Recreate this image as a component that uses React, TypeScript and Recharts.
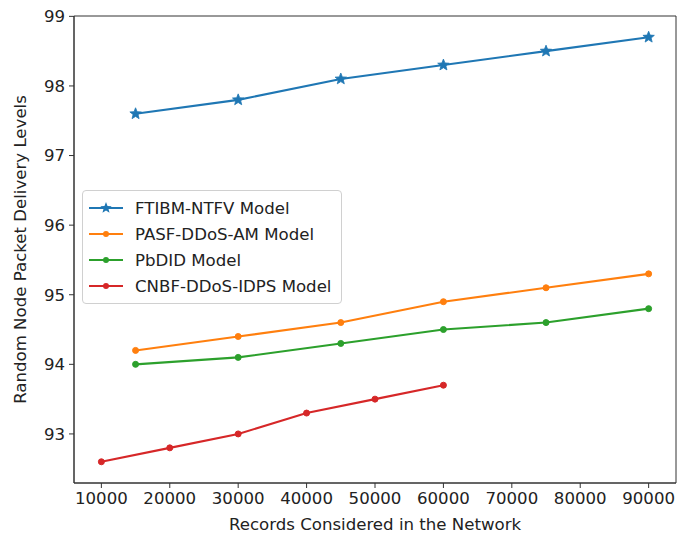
import React from "react";
import { LineChart, Line, XAxis, YAxis, ReferenceArea } from "recharts";

const xTicks = [10000, 20000, 30000, 40000, 50000, 60000, 70000, 80000, 90000];
const yTicks = [93, 94, 95, 96, 97, 98, 99];

const xMain = [15000, 30000, 45000, 60000, 75000, 90000];
const ftibm = [97.6, 97.8, 98.1, 98.3, 98.5, 98.7];
const pasf = [94.2, 94.4, 94.6, 94.9, 95.1, 95.3];
const pbdid = [94.0, 94.1, 94.3, 94.5, 94.6, 94.8];
const xCnbf = [10000, 20000, 30000, 40000, 50000, 60000];
const cnbf = [92.6, 92.8, 93.0, 93.3, 93.5, 93.7];

const seriesNames = ["FTIBM-NTFV Model", "PASF-DDoS-AM Model", "PbDID Model", "CNBF-DDoS-IDPS Model"];
const colors = ["#1f77b4", "#ff7f0e", "#2ca02c", "#d62728"];

const toData = (xs: number[], ys: number[]) => xs.map((x, i) => ({ x, y: ys[i] }));
const dFtibm = toData(xMain, ftibm);
const dPasf = toData(xMain, pasf);
const dPbdid = toData(xMain, pbdid);
const dCnbf = toData(xCnbf, cnbf);

const FONT = "'DejaVu Sans', sans-serif";
const TXT = "#222";
const FS = 16.6;

function starPath(cx: number, cy: number, R: number, r: number) {
  let d = "";
  for (let i = 0; i < 10; i++) {
    const ang = -Math.PI / 2 + (i * Math.PI) / 5;
    const rad = i % 2 === 0 ? R : r;
    const px = cx + rad * Math.cos(ang);
    const py = cy + rad * Math.sin(ang);
    d += (i === 0 ? "M" : "L") + px.toFixed(2) + "," + py.toFixed(2);
  }
  return d + "Z";
}

const StarDot = (props: any) => {
  const { cx, cy, key } = props;
  if (cx == null || cy == null) return null;
  return <path key={key} d={starPath(cx, cy, 6, 2.6)} fill={colors[0]} stroke={colors[0]} strokeWidth={0.8} />;
};

const makeCircle = (c: string) => (props: any) => {
  const { cx, cy, key } = props;
  if (cx == null || cy == null) return null;
  return <circle key={key} cx={cx} cy={cy} r={3} fill={c} stroke={c} />;
};

const LegendBox = () => (
  <div
    style={{
      position: "absolute",
      left: 82,
      top: 190,
      border: "1px solid #d0d0d0",
      borderRadius: 4,
      background: "rgba(255,255,255,0.85)",
      width: 260,
      padding: "4px 0 4px 0",
      fontFamily: FONT,
      fontSize: FS,
      color: TXT,
      boxSizing: "border-box",
    }}
  >
    {seriesNames.map((n, i) => (
      <div key={n} style={{ display: "flex", alignItems: "center", height: 26 }}>
        <svg width={50} height={20} style={{ flex: "none" }}>
          <line x1={6} y1={10} x2={40} y2={10} stroke={colors[i]} strokeWidth={2.1} />
          {i === 0 ? (
            <path d={starPath(23, 10, 6, 2.6)} fill={colors[i]} />
          ) : (
            <circle cx={23} cy={10} r={3} fill={colors[i]} />
          )}
        </svg>
        <span style={{ marginLeft: 2, whiteSpace: "nowrap" }}>{n}</span>
      </div>
    ))}
  </div>
);

export default function App() {
  return (
    <div style={{ position: "absolute", left: 0, top: 0, width: 677, height: 534 }}>
      <LineChart width={677} height={534} margin={{ top: 16, right: 1, bottom: 0, left: 0 }}>
        <XAxis
          type="number"
          dataKey="x"
          domain={[6000, 94000]}
          ticks={xTicks}
          allowDataOverflow
          height={51}
          tickSize={5}
          tickMargin={4}
          stroke="#333"
          tick={{ fill: TXT, fontSize: FS, fontFamily: FONT }}
          label={{
            content: () => (
              <text x={375} y={530} textAnchor="middle" fill={TXT} fontSize={FS} fontFamily={FONT}>
                Records Considered in the Network
              </text>
            ),
          }}
        />
        <YAxis
          type="number"
          dataKey="y"
          domain={[92.295, 99.005]}
          ticks={yTicks}
          allowDataOverflow
          width={74}
          tickSize={5}
          tickMargin={4}
          stroke="#333"
          tick={{ fill: TXT, fontSize: FS, fontFamily: FONT }}
          label={{
            content: () => (
              <text
                x={26}
                y={249.5}
                transform="rotate(-90 26 249.5)"
                textAnchor="middle"
                fill={TXT}
                fontSize={FS}
                fontFamily={FONT}
              >
                Random Node Packet Delivery Levels
              </text>
            ),
          }}
        />
        <ReferenceArea x1={6000} x2={94000} y1={92.295} y2={99.005} fill="none" stroke="#333" strokeWidth={1} ifOverflow="visible" />
        <Line data={dFtibm} dataKey="y" name={seriesNames[0]} stroke={colors[0]} strokeWidth={2.1} dot={StarDot} isAnimationActive={false} />
        <Line data={dPasf} dataKey="y" name={seriesNames[1]} stroke={colors[1]} strokeWidth={2.1} dot={makeCircle(colors[1])} isAnimationActive={false} />
        <Line data={dPbdid} dataKey="y" name={seriesNames[2]} stroke={colors[2]} strokeWidth={2.1} dot={makeCircle(colors[2])} isAnimationActive={false} />
        <Line data={dCnbf} dataKey="y" name={seriesNames[3]} stroke={colors[3]} strokeWidth={2.1} dot={makeCircle(colors[3])} isAnimationActive={false} />
      </LineChart>
      <LegendBox />
    </div>
  );
}
